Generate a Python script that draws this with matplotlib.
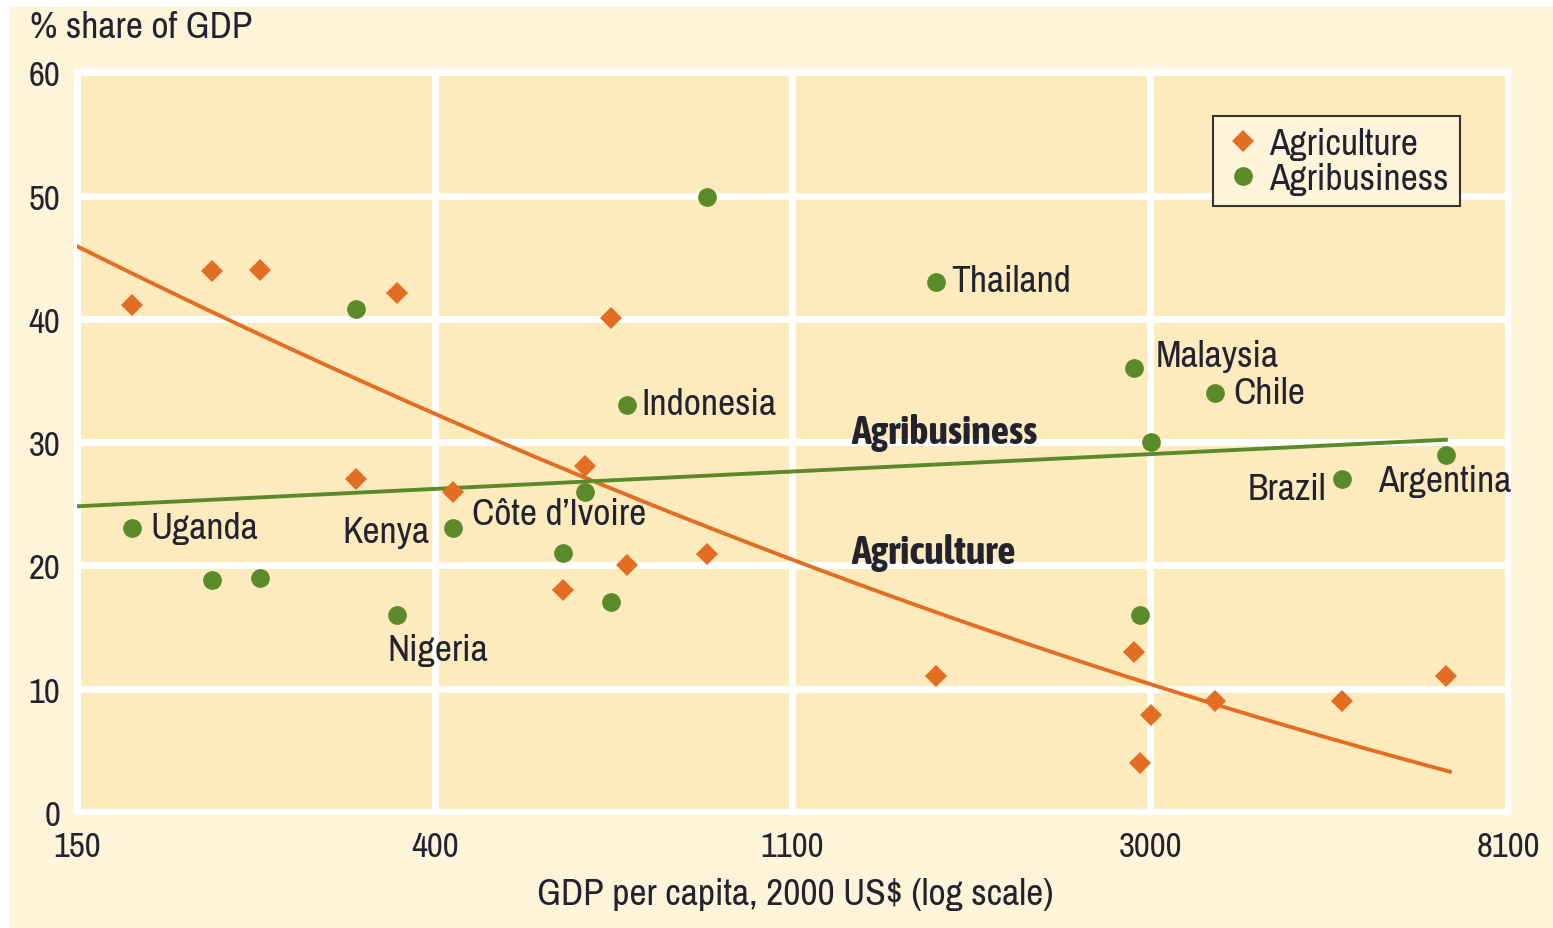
import numpy as np
import matplotlib
matplotlib.use("Agg")
import matplotlib.pyplot as plt
from matplotlib.patches import Rectangle
from matplotlib import font_manager

# pick an installed narrow/condensed face if there is one
narrow = [f for f in font_manager.fontManager.ttflist
          if ('Narrow' in f.name or 'Condensed' in f.name) and f.style == 'normal']
regular = [f for f in narrow if f.weight in (400, 'normal', 'regular')]
bold = [f for f in narrow if f.weight in (700, 'bold')]
plt.rcParams['font.family'] = [f.name for f in regular[:1]] + ['Roboto', 'DejaVu Sans']
bold_font = font_manager.FontProperties(fname=bold[0].fname) if bold else \
    font_manager.FontProperties(weight='bold')

# GDP per capita (2000 US$) for each country, shared by both series
gdp = [175, 219, 250, 327, 367, 429, 583, 621, 667, 698, 873,
       1655, 2878, 2927, 3018, 3609, 5148, 6884]
agriculture = [41.1, 43.9, 44.0, 27.0, 42.1, 26.0, 18.0, 28.1, 40.1, 20.0, 20.9,
               11.0, 13.0, 4.0, 7.9, 9.0, 9.0, 11.0]
agribusiness = [23.0, 18.8, 19.0, 40.8, 16.0, 23.0, 21.0, 26.0, 17.0, 33.0, 49.9,
                43.0, 36.0, 16.0, 30.0, 34.0, 27.0, 29.0]

# trend lines
ag_trend_gdp = [150, 233, 307, 406, 517, 624, 1101, 1745, 2094, 3010, 4209, 5566, 6960]
ag_trend_val = [46.3, 39.4, 36.0, 32.2, 28.9, 27.1, 20.8, 15.7, 14.1, 10.6, 7.3, 4.9, 3.2]
biz_trend_gdp = [150, 6884]
biz_trend_val = [24.8, 30.2]

tick_labels = ['150', '400', '1100', '3000', '8100']

# country labels: name, index, dx, dy (points), ha
labels = [
    ('Uganda', 0, 13, 1, 'left'),
    ('Kenya', 5, -17, -2, 'right'),
    ("C\u00f4te d\u2019Ivoire", 7, -19, -16, 'center'),
    ('Nigeria', 4, 29, -25, 'center'),
    ('Indonesia', 9, 10, 1, 'left'),
    ('Thailand', 11, 11, 1, 'left'),
    ('Malaysia', 12, 16, 9, 'left'),
    ('Chile', 15, 13, 0, 'left'),
    ('Brazil', 16, -11, -7, 'right'),
    ('Argentina', 17, -1, -19, 'center'),
]

orange = '#E36D22'
green = '#5B8A2B'
panel = '#FDEBBD'
outer = '#FEF4DA'
txt = '#23232F'
fs = 27

fig = plt.figure(figsize=(15.53, 9.29), dpi=100)
fig.patch.set_facecolor('white')
fig.patches.append(Rectangle((10 / 1553, 0), 1, 1 - 8 / 929, transform=fig.transFigure,
                             facecolor=outer, edgecolor='none', zorder=-10))

ax = fig.add_axes([77 / 1553, 1 - 813 / 929, 1431 / 1553, (813 - 73.4) / 929])
ax.set_facecolor(panel)
ax.set_xscale('log')
ax.set_xlim(150, 150 * np.exp(4))
ax.set_ylim(0, 60)
ax.set_xticks(150 * np.exp(np.arange(5)))
ax.set_xticklabels(tick_labels)
ax.xaxis.set_minor_locator(matplotlib.ticker.NullLocator())
ax.set_yticks(range(0, 61, 10))
ax.tick_params(length=0, labelsize=25, colors=txt)
ax.tick_params(axis='x', pad=13)
ax.tick_params(axis='y', pad=12)
ax.grid(True, color='white', linewidth=5)
ax.set_axisbelow(True)
for s in ax.spines.values():
    s.set_color('white')
    s.set_linewidth(4.5)

# trend lines
lx = np.linspace(np.log(ag_trend_gdp[0]), np.log(ag_trend_gdp[-1]), 200)
coef = np.polyfit(np.log(ag_trend_gdp), ag_trend_val, 2)
ax.plot(np.exp(lx), np.polyval(coef, lx), color=orange, lw=2.8, zorder=3)
ax.plot(biz_trend_gdp, biz_trend_val, color=green, lw=2.8, zorder=3)

ax.plot(gdp, agriculture, 'D', color=orange, ms=11.5, mew=0, label='Agriculture', zorder=4)
ax.plot(gdp, agribusiness, 'o', color=green, ms=13.5, mew=0, label='Agribusiness', zorder=4)

for name, i, dx, dy, ha in labels:
    ax.annotate(name, (gdp[i], agribusiness[i]), xytext=(dx, dy), textcoords='offset points',
                ha=ha, va='center', fontsize=fs, color=txt, zorder=5)

ax.text(1305, 30.8, 'Agribusiness', fontproperties=bold_font, fontsize=29, color=txt,
        va='center', ha='left', zorder=5)
ax.text(1305, 21.1, 'Agriculture', fontproperties=bold_font, fontsize=29, color=txt,
        va='center', ha='left', zorder=5)

leg = ax.legend(loc='upper right', bbox_to_anchor=((1460 - 77) / 1431, (813 - 117) / 739.6),
                borderaxespad=0, fontsize=fs, frameon=True, fancybox=False,
                handletextpad=0.2, labelspacing=0.05, borderpad=0.3,
                handlelength=1.0, markerscale=1.0)
leg.get_frame().set_facecolor('#FEF4D9')
leg.get_frame().set_edgecolor('#333333')
leg.get_frame().set_linewidth(1.5)
leg.get_frame().set_alpha(1)
for t in leg.get_texts():
    t.set_color(txt)

fig.text(30 / 1553, 1 - 28 / 929, '% share of GDP', fontsize=fs, color=txt,
         ha='left', va='center')
fig.text(795 / 1553, 1 - 895 / 929, 'GDP per capita, 2000 US$ (log scale)', fontsize=fs,
         color=txt, ha='center', va='center')

fig.savefig('out.png', dpi=100, facecolor=fig.get_facecolor())
